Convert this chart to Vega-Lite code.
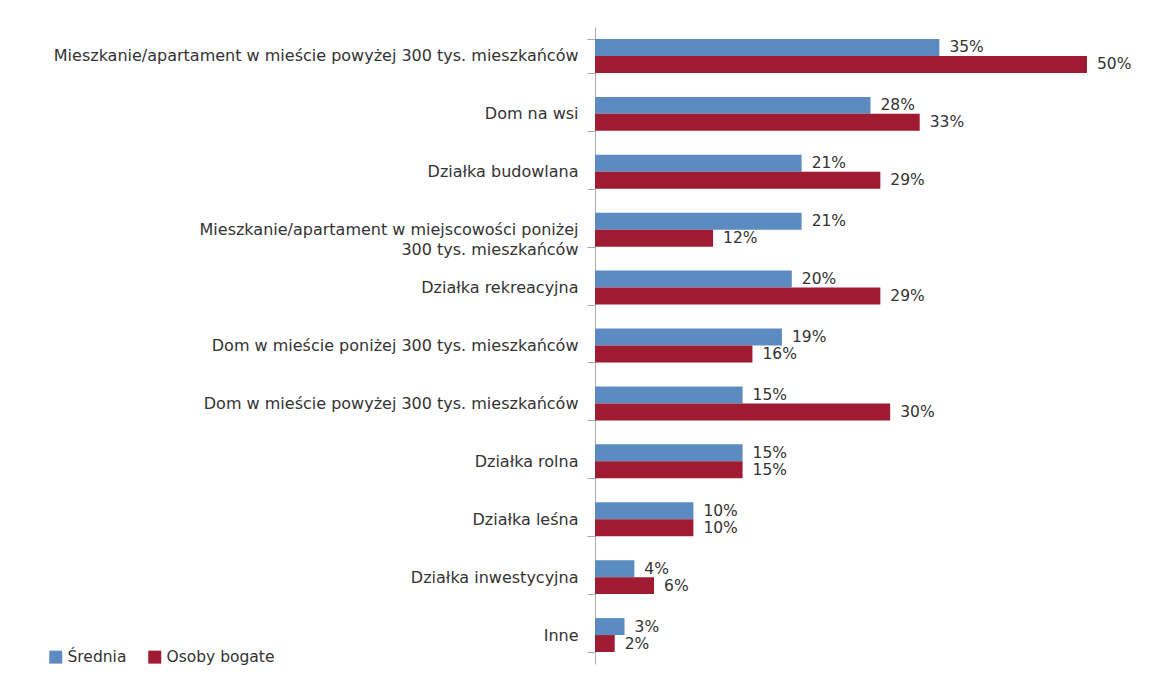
{
  "$schema": "https://vega.github.io/schema/vega-lite/v6.json",
  "autosize": {"type": "none"},
  "padding": {"left": 595, "top": 27, "right": 16, "bottom": 12},
  "width": 551,
  "height": 637,
  "background": "white",
  "config": {
    "view": {"stroke": null},
    "font": "DejaVu Sans"
  },
  "data": {
    "values": [
      {"cat": "Mieszkanie/apartament w mieście powyżej 300 tys. mieszkańców", "series": "Średnia", "value": 0.35},
      {"cat": "Mieszkanie/apartament w mieście powyżej 300 tys. mieszkańców", "series": "Osoby bogate", "value": 0.50},
      {"cat": "Dom na wsi", "series": "Średnia", "value": 0.28},
      {"cat": "Dom na wsi", "series": "Osoby bogate", "value": 0.33},
      {"cat": "Działka budowlana", "series": "Średnia", "value": 0.21},
      {"cat": "Działka budowlana", "series": "Osoby bogate", "value": 0.29},
      {"cat": "Mieszkanie/apartament w miejscowości poniżej|300 tys. mieszkańców", "series": "Średnia", "value": 0.21},
      {"cat": "Mieszkanie/apartament w miejscowości poniżej|300 tys. mieszkańców", "series": "Osoby bogate", "value": 0.12},
      {"cat": "Działka rekreacyjna", "series": "Średnia", "value": 0.20},
      {"cat": "Działka rekreacyjna", "series": "Osoby bogate", "value": 0.29},
      {"cat": "Dom w mieście poniżej 300 tys. mieszkańców", "series": "Średnia", "value": 0.19},
      {"cat": "Dom w mieście poniżej 300 tys. mieszkańców", "series": "Osoby bogate", "value": 0.16},
      {"cat": "Dom w mieście powyżej 300 tys. mieszkańców", "series": "Średnia", "value": 0.15},
      {"cat": "Dom w mieście powyżej 300 tys. mieszkańców", "series": "Osoby bogate", "value": 0.30},
      {"cat": "Działka rolna", "series": "Średnia", "value": 0.15},
      {"cat": "Działka rolna", "series": "Osoby bogate", "value": 0.15},
      {"cat": "Działka leśna", "series": "Średnia", "value": 0.10},
      {"cat": "Działka leśna", "series": "Osoby bogate", "value": 0.10},
      {"cat": "Działka inwestycyjna", "series": "Średnia", "value": 0.04},
      {"cat": "Działka inwestycyjna", "series": "Osoby bogate", "value": 0.06},
      {"cat": "Inne", "series": "Średnia", "value": 0.03},
      {"cat": "Inne", "series": "Osoby bogate", "value": 0.02}
    ]
  },
  "encoding": {
    "y": {
      "field": "cat",
      "type": "nominal",
      "sort": null,
      "scale": {"paddingInner": 0.414, "paddingOuter": 0.207},
      "axis": {
        "title": null,
        "labelExpr": "split(datum.label, '|')",
        "labelFontSize": 16,
        "labelColor": "#333333",
        "labelLimit": 0,
        "labelLineHeight": 20,
        "labelPadding": 9,
        "tickBand": "extent",
        "tickSize": 8,
        "tickColor": "#aaaaaa",
        "domainColor": "#aaaaaa",
        "grid": false
      }
    },
    "yOffset": {
      "field": "series",
      "type": "nominal",
      "sort": ["Średnia", "Osoby bogate"],
      "scale": {"paddingInner": 0, "paddingOuter": 0}
    },
    "x": {
      "field": "value",
      "type": "quantitative",
      "scale": {"domain": [0, 0.56], "nice": false},
      "axis": null
    }
  },
  "layer": [
    {
      "mark": {"type": "bar"},
      "encoding": {
        "color": {
          "field": "series",
          "type": "nominal",
          "scale": {"domain": ["Średnia", "Osoby bogate"], "range": ["#5b8bc0", "#9e1b32"]},
          "legend": {
            "title": null,
            "orient": "none",
            "legendX": -547,
            "legendY": 622,
            "direction": "horizontal",
            "symbolType": "square",
            "symbolSize": 169,
            "symbolStrokeWidth": 0,
            "labelFontSize": 15.5,
            "labelColor": "#333333",
            "labelOffset": 4,
            "columnPadding": 20
          }
        }
      }
    },
    {
      "mark": {"type": "text", "align": "left", "baseline": "middle", "dx": 10, "fontSize": 15.5, "color": "#333333"},
      "encoding": {
        "text": {"field": "value", "type": "quantitative", "format": ".0%"}
      }
    }
  ]
}
